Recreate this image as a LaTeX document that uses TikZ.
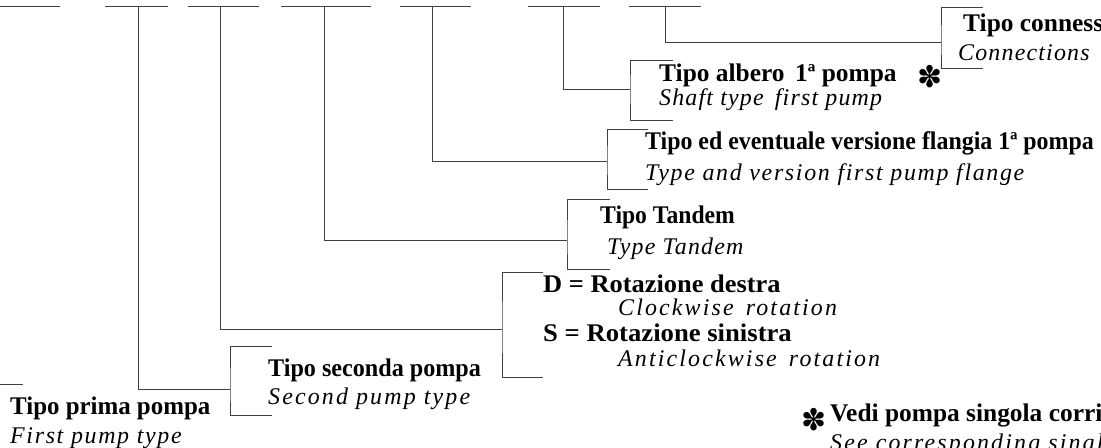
\documentclass[tikz,border=0pt]{standalone}
\usepackage{fontspec}
\setmainfont{Liberation Serif}
\newfontfamily\itfont{Liberation Serif}[LetterSpace=5]
\newfontfamily\itmid{Liberation Serif}[LetterSpace=7]
\newfontfamily\itwide{Liberation Serif}[LetterSpace=9]
\newfontfamily\dingfont{DejaVu Sans}
\tikzset{
  ln/.style={draw=black!75, line width=0.9bp},
  bt/.style={anchor=base west, inner sep=0pt, font=\fontsize{25.5}{27}\selectfont\bfseries},
  it/.style={anchor=base west, inner sep=0pt, font=\fontsize{24}{26}\selectfont\itfont\itshape},
  itm/.style={anchor=base west, inner sep=0pt, font=\fontsize{24}{26}\selectfont\itmid\itshape},
  itw/.style={anchor=base west, inner sep=0pt, font=\fontsize{24}{26}\selectfont\itwide\itshape},
  star/.style={inner sep=0pt, font=\fontsize{30}{30}\selectfont\dingfont}
}
\begin{document}
\begin{tikzpicture}[x=1bp,y=-1bp]
\useasboundingbox (0,0) rectangle (1101,448);
\clip (0,0) rectangle (1101,448);
% top bars
\coordinate (a1l) at (0,6);   \coordinate (a1r) at (60,6);
\coordinate (a2l) at (105,6); \coordinate (a2r) at (168,6); \coordinate (v2) at (138,6);
\coordinate (a3l) at (188,6); \coordinate (a3r) at (259,6); \coordinate (v3) at (220,6);
\coordinate (a4l) at (281,6); \coordinate (a4r) at (371,6); \coordinate (v4) at (324,6);
\coordinate (a5l) at (400,6); \coordinate (a5r) at (471,6); \coordinate (v5) at (432,6);
\coordinate (a6l) at (528,6); \coordinate (a6r) at (600,6); \coordinate (v6) at (563,6);
\coordinate (a7l) at (629,6); \coordinate (a7r) at (701,6); \coordinate (v7) at (665,6);
\foreach \i in {1,...,7} {\draw[ln] (a\i l) -- (a\i r);}
% bracket joins
\coordinate (k7) at (941,42);  \coordinate (k7a) at (983,7);   \coordinate (k7b) at (983,68);
\coordinate (k6) at (630,89);  \coordinate (k6a) at (673,60);  \coordinate (k6b) at (673,120);
\coordinate (k5) at (607,161); \coordinate (k5a) at (648,129); \coordinate (k5b) at (648,189);
\coordinate (k4) at (567,240); \coordinate (k4a) at (610,199); \coordinate (k4b) at (610,269);
\coordinate (k3) at (502,329); \coordinate (k3a) at (543,272); \coordinate (k3b) at (543,377);
\coordinate (k2) at (230,389); \coordinate (k2a) at (272,346); \coordinate (k2b) at (272,415);
\coordinate (k1a) at (0,384);  \coordinate (k1b) at (23,384);
\foreach \i in {2,...,7} {
  \draw[ln] (v\i) |- (k\i);
  \draw[ln] (k\i a) -| (k\i) |- (k\i b);
}
\draw[ln] (k1a) -- (k1b);
% texts
\node[bt] (t7) at (963,32) {Tipo connessioni};
\node[it] (i7) at (958,61) {Connections};
\node[bt] (t6) at (659,82) {Tipo albero\, 1ª pompa};
\node[it] (i6) at (659,106) {Shaft type\, first pump};
\node[star] (s1) at (930,77) {✽};
\node[bt, transform shape, xscale=0.94] (t5) at (645,150) {Tipo ed eventuale versione flangia 1ª pompa};
\node[itm] (i5) at (645,181) {Type and version first pump flange};
\node[bt, transform shape, xscale=0.93] (t4) at (600,224) {Tipo Tandem};
\node[it] (i4) at (607,255) {Type Tandem};
\node[bt, transform shape, xscale=1.04] (t3a) at (543,293) {D = Rotazione destra};
\node[itw] (i3a) at (618,316) {Clockwise\, rotation};
\node[bt, transform shape, xscale=1.05] (t3b) at (543,342) {S = Rotazione sinistra};
\node[itw] (i3b) at (618,367) {Anticlockwise\, rotation};
\node[bt, transform shape, xscale=0.95] (t2) at (268,377) {Tipo seconda pompa};
\node[itw] (i2) at (268,405) {Second pump type};
\node[bt, transform shape, xscale=0.98] (t1) at (10,415) {Tipo prima pompa};
\node[itm] (i1) at (10,443) {First pump type};
\node[star] (s2) at (814,420) {✽};
\node[bt] (tn) at (830,422) {Vedi pompa singola corrispondente};
\node[itw] (in) at (830,450) {See corresponding single pump};
\end{tikzpicture}
\end{document}
